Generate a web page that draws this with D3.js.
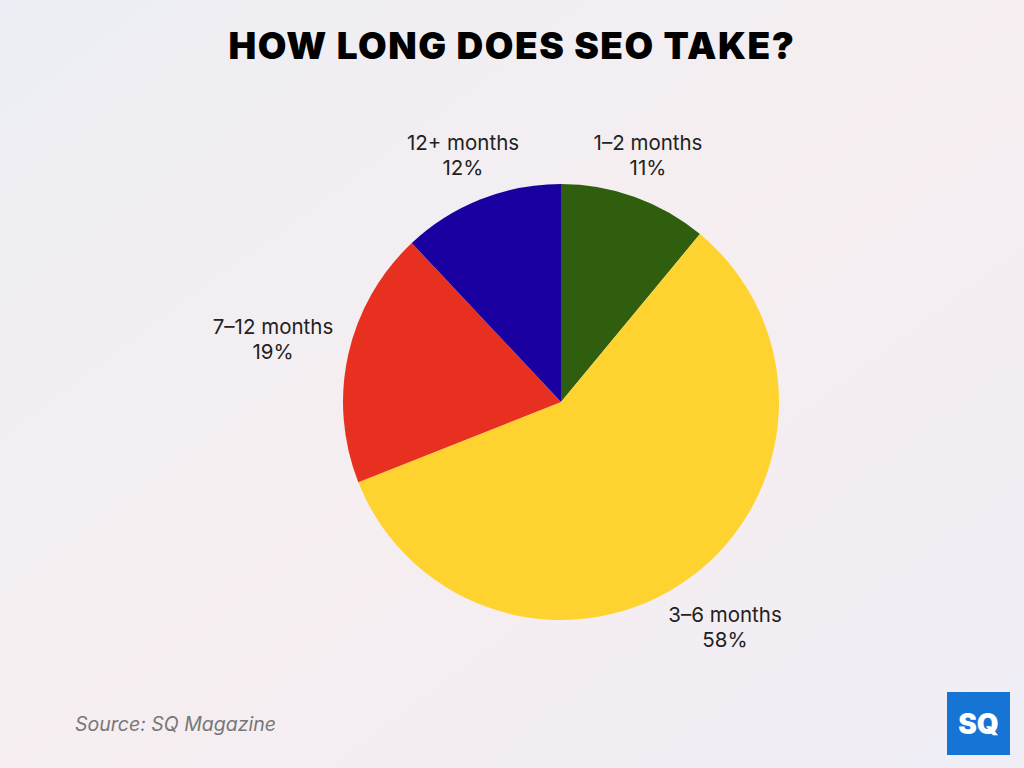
<!DOCTYPE html>
<html><head><meta charset="utf-8">
<script src="https://cdn.jsdelivr.net/npm/d3@7"></script>
<style>body{margin:0;}svg{display:block;}</style>
</head><body>
<svg id="c" width="1024" height="768"></svg>
<script>
const categories = ["1–2 months","3–6 months","7–12 months","12+ months"];
const values = [11,58,19,12];
const colors = ["#2f5e0e","#fed330","#e83020","#1a00a0"];
const labelPos = [[648,143],[725,615],[273,327],[463,143]];

const svg = d3.select("#c");
const defs = svg.append("defs");
const g = defs.append("linearGradient").attr("id","bg").attr("x1","0").attr("y1","0").attr("x2","1").attr("y2","1");
g.append("stop").attr("offset","0").attr("stop-color","#eceef5");
g.append("stop").attr("offset","0.5").attr("stop-color","#f6eef0");
g.append("stop").attr("offset","1").attr("stop-color","#efedf6");
svg.append("rect").attr("width",1024).attr("height",768).attr("fill","url(#bg)");

svg.append("text").attr("x",512).attr("y",59).attr("text-anchor","middle")
  .attr("font-family","Inter, 'DejaVu Sans', sans-serif").attr("font-weight",900)
  .attr("font-size",37).attr("letter-spacing",1.5).attr("fill","#000").text("HOW LONG DOES SEO TAKE?");

const cx=561, cy=402, r=218;
const pie = d3.pie().sort(null).value(d=>d);
const arc = d3.arc().innerRadius(0).outerRadius(r);
svg.append("g").attr("transform",`translate(${cx},${cy})`)
  .selectAll("path").data(pie(values)).join("path")
  .attr("d",arc).attr("fill",(d,i)=>colors[i]);

categories.forEach((c,i)=>{
  const t = svg.append("text").attr("text-anchor","middle")
    .attr("font-family","Inter, 'Noto Sans', sans-serif").attr("font-size",20.5).attr("fill","#222");
  t.append("tspan").attr("x",labelPos[i][0]).attr("y",labelPos[i][1]+7).text(c);
  t.append("tspan").attr("x",labelPos[i][0]).attr("y",labelPos[i][1]+32).text(values[i]+"%");
});

svg.append("text").attr("x",75).attr("y",731).attr("font-family","Inter, 'Noto Sans', sans-serif")
  .attr("font-style","italic").attr("font-size",19.5).attr("fill","#777").text("Source: SQ Magazine");

svg.append("rect").attr("x",947).attr("y",692).attr("width",63).attr("height",63).attr("fill","#1574d4");
svg.append("text").attr("x",978.5).attr("y",734).attr("text-anchor","middle")
  .attr("font-family","Inter, sans-serif").attr("font-weight",900).attr("font-size",28).attr("fill","#fff").text("SQ");
</script>
</body></html>
